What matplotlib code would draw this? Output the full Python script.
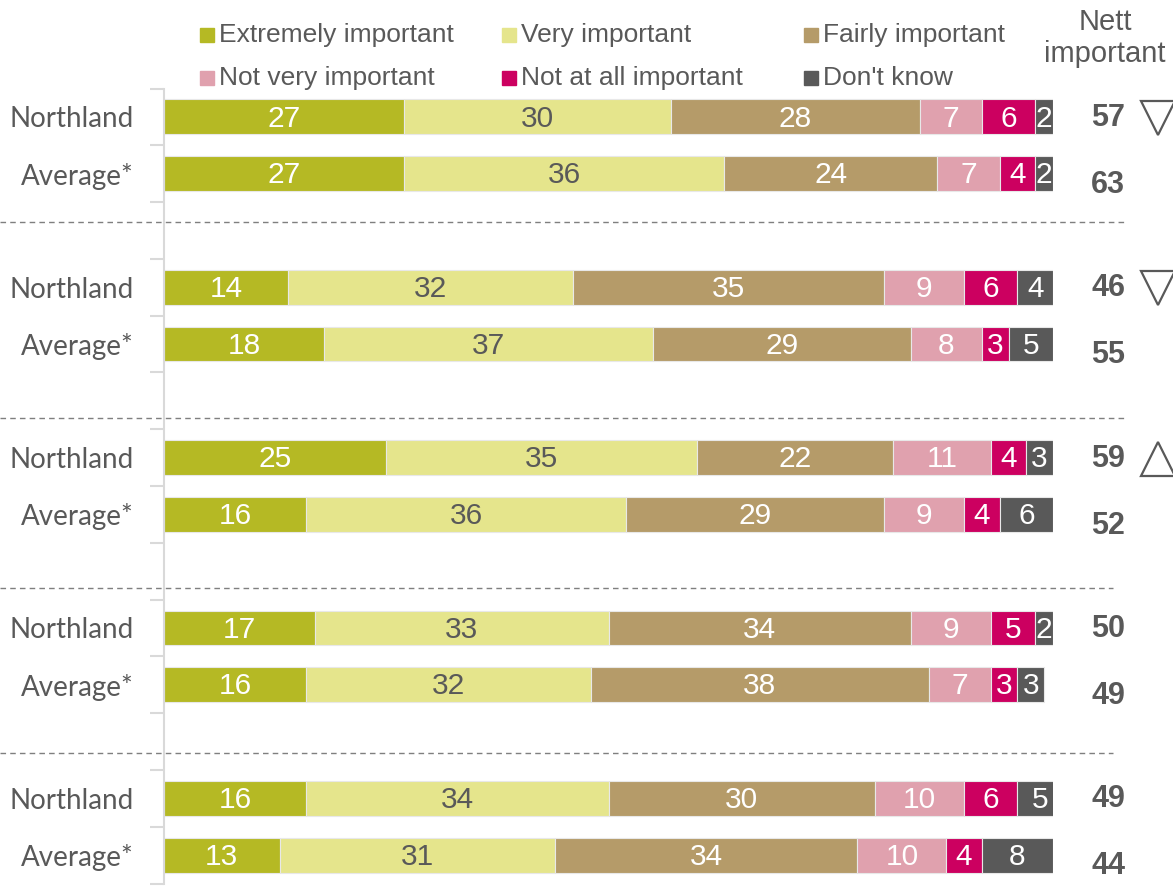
import numpy as np
import matplotlib.pyplot as plt
from matplotlib.patches import Rectangle

# data
rows = ['Northland', 'Average*'] * 5
categories = ['Extremely important', 'Very important', 'Fairly important',
              'Not very important', 'Not at all important', "Don't know"]
extremely = [27, 27, 14, 18, 25, 16, 17, 16, 16, 13]
very = [30, 36, 32, 37, 35, 36, 33, 32, 34, 31]
fairly = [28, 24, 35, 29, 22, 29, 34, 38, 30, 34]
not_very = [7, 7, 9, 8, 11, 9, 9, 7, 10, 10]
not_at_all = [6, 4, 6, 3, 4, 4, 5, 3, 6, 4]
dont_know = [2, 2, 4, 5, 3, 6, 2, 3, 5, 8]
nett = [57, 63, 46, 55, 59, 52, 50, 49, 49, 44]
# significance marker per row: 'v' lower, '^' higher, '' none
sig = ['v', '', 'v', '', '^', '', '', '', '', '']

colors = ['#B5B924', '#E5E58C', '#B59B69', '#E0A1AE', '#CC0060', '#595959']
label_colors = ['white', '#595959', 'white', 'white', 'white', 'white']
dark = '#595959'

series = [extremely, very, fairly, not_very, not_at_all, dont_know]

# slot positions: 3 slots per group (2 bars + gap)
ypos = np.array([0, 1, 3, 4, 6, 7, 9, 10, 12, 13])
sep_lines = [(1.85, 108.1), (5.3, 108.1), (8.29, 106.75), (11.21, 106.75)]

W, H = 1173, 886
fig = plt.figure(figsize=(W / 100, H / 100), dpi=100)
ax = fig.add_axes([164 / W, 2.5 / H, 889 / W, 795 / H])

left = np.zeros(len(rows))
for vals, col, lc in zip(series, colors, label_colors):
    vals = np.array(vals)
    ax.barh(ypos, vals, left=left, height=0.615, color=col,
            edgecolor='#E8E8E8', linewidth=0.8)
    for y, l, v in zip(ypos, left, vals):
        ax.text(l + v / 2, y + 0.03, str(v), ha='center', va='center',
                color=lc, fontsize=21.5, family='Liberation Sans')
    left += vals

# nett important column
for i, (y, n, s) in enumerate(zip(ypos, nett, sig)):
    off = 0.02 if i % 2 == 0 else 0.2
    ax.text(106.2, y + off, str(n), ha='center', va='center', color=dark,
            fontsize=22, fontweight='bold', family='Liberation Sans',
            clip_on=False)
    if s:
        ax.plot([111.8], [y + 0.02], marker=s, markersize=25,
                markerfacecolor='none', markeredgecolor=dark,
                markeredgewidth=1.6, clip_on=False)

# dashed separators
for yy, xe in sep_lines:
    ax.plot([-18.4, xe], [yy, yy], color='#7F7F7F', linestyle=(0, (4, 3)),
            linewidth=1, clip_on=False)

ax.set_xlim(0, 100)
ax.set_ylim(13.5, -0.5)
ax.set_yticks(ypos)
ax.set_yticklabels(rows, fontsize=20, family='Lato', color=dark)
ax.tick_params(axis='y', which='major', length=0, pad=22)
ax.set_yticks(np.arange(-0.5, 14, 1), minor=True)
ax.tick_params(axis='y', which='minor', length=10, width=1.5, color='#D9D9D9')
ax.set_xticks([])
for sp in ['top', 'right', 'bottom']:
    ax.spines[sp].set_visible(False)
ax.spines['left'].set_color('#D9D9D9')
ax.spines['left'].set_linewidth(1.5)

# legend
leg_pos = [(200, 35), (502, 35), (804, 35), (200, 78), (502, 78), (804, 78)]
for (px, py), cat, col in zip(leg_pos, categories, colors):
    fig.patches.append(Rectangle((px / W, 1 - (py + 7) / H), 14 / W, 14 / H,
                                 color=col, transform=fig.transFigure))
    fig.text((px + 19) / W, 1 - py / H, cat, ha='left', va='center',
             fontsize=19, color=dark, family='Liberation Sans')

fig.text(1105 / W, 1 - 38 / H, 'Nett\nimportant', ha='center', va='center',
         fontsize=21, color=dark, family='Liberation Sans', linespacing=1.2)

fig.savefig('out.png', dpi=100)
